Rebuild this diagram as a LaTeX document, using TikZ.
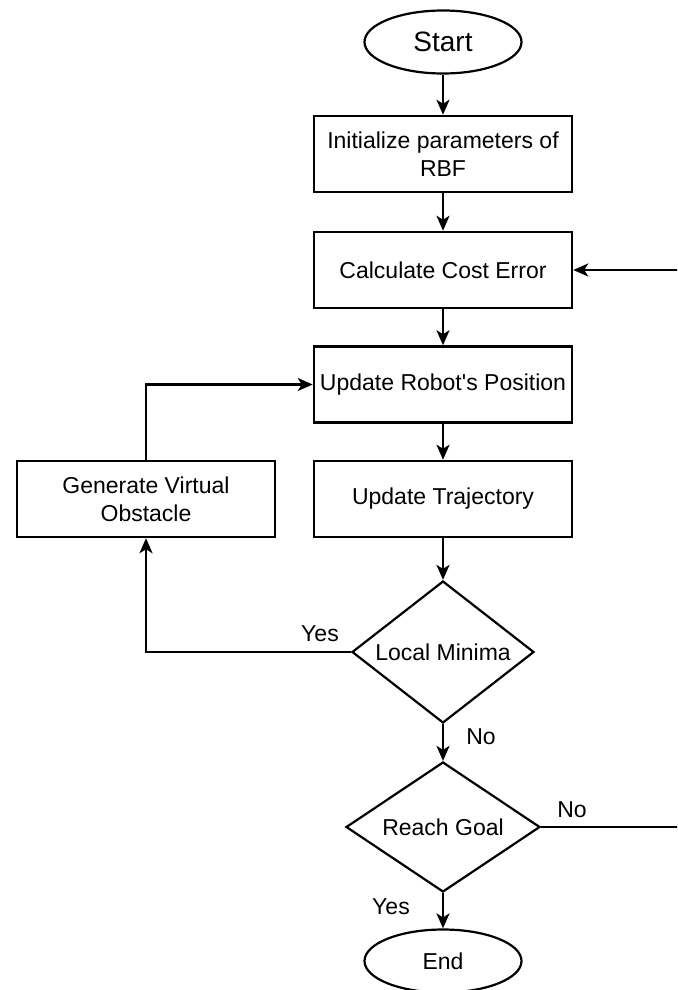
\documentclass[tikz,border=0pt]{standalone}
\usepackage{fontspec}
\setmainfont{Liberation Sans}
\usetikzlibrary{shapes.geometric,arrows.meta}
\begin{document}
\begin{tikzpicture}[x=1pt,y=-1pt,
  txt/.style={font=\fontsize{23}{28}\selectfont},
  stepbox/.style={txt,draw,line width=2.5pt,minimum width=258pt,minimum height=76pt,inner sep=0pt,align=center},
  term/.style={txt,draw,ellipse,line width=2.2pt,minimum width=157pt,minimum height=63pt,inner sep=0pt},
  decision/.style={txt,draw,diamond,line width=2.2pt,inner sep=0pt},
  lbl/.style={txt,inner sep=0pt},
  arr/.style={line width=2.5pt,-{Stealth[length=15pt,width=13pt,inset=4pt]}},
  conn/.style={line width=2.5pt}
]
\useasboundingbox (0,0) rectangle (677,990);
\clip (0,0) rectangle (677,990);

\node[term,font=\fontsize{28}{32}\selectfont] (start) at (443,42) {Start};
\node[stepbox] (b1) at (443,154) {Initialize parameters of\\RBF};
\node[stepbox] (b2) at (443,270) {Calculate Cost Error};
\node[stepbox] (b3) at (443,384.5) {Update Robot\textquotesingle s Position};
\node[stepbox] (b4) at (443,499) {Update Trajectory};
\node[stepbox] (gen) at (146,499) {Generate Virtual\\Obstacle};
\node[decision,minimum width=182pt,minimum height=142pt] (lm) at (443,652) {\makebox[0pt]{Local Minima}};
\node[decision,minimum width=194pt,minimum height=130pt] (rg) at (443,827) {\makebox[0pt]{Reach Goal}};
\node[term] (end) at (443,961) {End};

\node[lbl] (yes1) at (320,634) {Yes};
\node[lbl] (no1) at (481,737) {No};
\node[lbl] (no2) at (572,810) {No};
\node[lbl] (yes2) at (391,907) {Yes};

\coordinate (rr) at (700,827);

\draw[arr] (start) -- (b1);
\draw[arr] (b1) -- (b2);
\draw[arr] (b2) -- (b3);
\draw[arr] (b3) -- (b4);
\draw[arr] (b4) -- (lm);
\draw[arr] (lm) -- (rg);
\draw[arr] (rg) -- (end);
\draw[arr] (lm.west) -| (gen.south);
\draw[arr] (gen.north) |- (b3.west);
\draw[arr] (rg.east) -- (rr) |- (b2.east);
\end{tikzpicture}
\end{document}
